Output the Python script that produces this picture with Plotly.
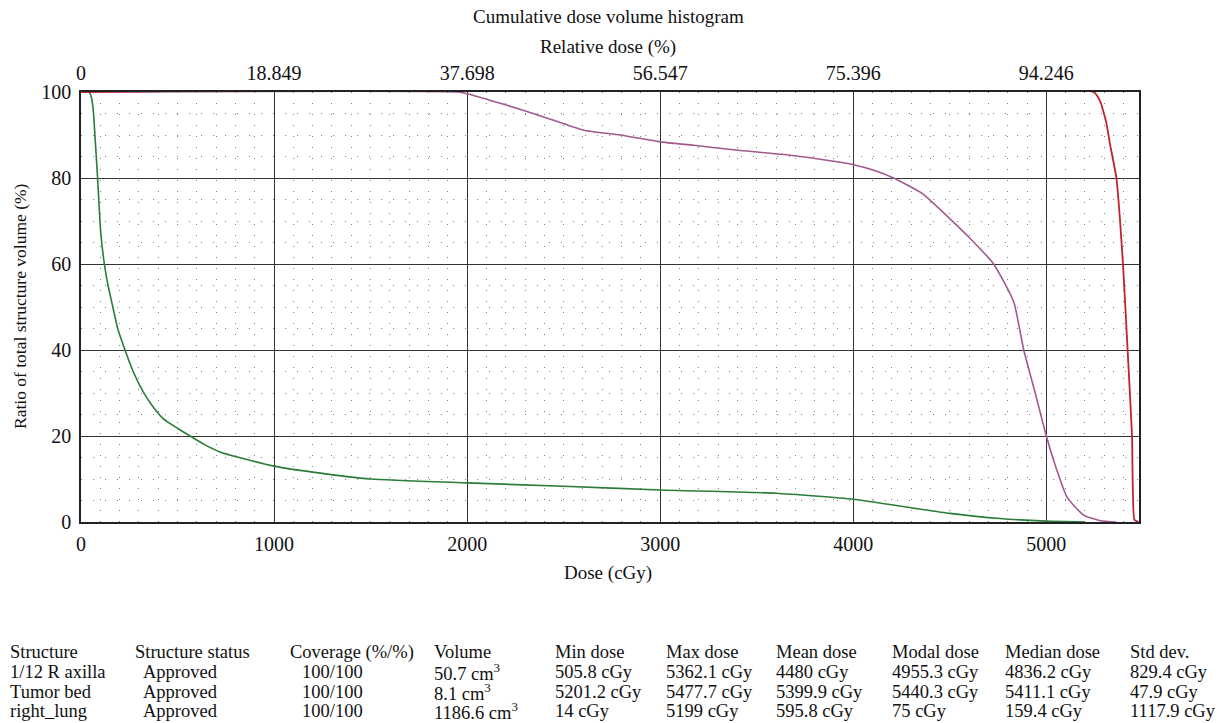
import plotly.graph_objects as go

# ---------------- data ----------------
dose_ticks = [0, 1000, 2000, 3000, 4000, 5000]
rel_dose_labels = ["0", "18.849", "37.698", "56.547", "75.396", "94.246"]
vol_ticks = [0, 20, 40, 60, 80, 100]

# right_lung (green)
lung_dose = [0, 30, 45, 55, 65, 72, 86, 102, 121, 140, 159, 190, 228, 270, 323, 370,
             427, 500, 565, 640, 720, 820, 1000, 1200, 1500, 2000, 2500, 3000,
             3600, 4000, 4330, 4500, 4760, 5000, 5199]
lung_vol = [100, 100, 99.8, 98.5, 95, 90, 80, 67.4, 60, 55, 51.2, 45, 40, 35, 30.2, 27,
            24, 21.8, 20, 18, 16.3, 15, 13, 11.6, 10, 9.1, 8.3, 7.45,
            6.7, 5.3, 3.1, 2.0, 0.8, 0.2, 0]

# 1/12 R axilla (purple)
axilla_dose = [0, 1950, 2000, 2207, 2397, 2604, 2793, 3000, 3173, 3415, 3674, 3899,
               4002, 4106, 4209, 4347, 4399, 4589, 4727, 4831, 4883, 4943, 5000,
               5055, 5107, 5193, 5280, 5362]
axilla_vol = [100, 100, 99.6, 96.9, 94.2, 91.1, 90, 88.4, 87.6, 86.4, 85.3, 83.9,
              83.1, 81.8, 80, 76.7, 74.8, 66.7, 60, 51.2, 40, 29.9, 20,
              12, 5.8, 1.6, 0.3, 0]

# Tumor bed (red)
tumor_dose = [0, 5245, 5280, 5310, 5331, 5363, 5397, 5421, 5444, 5456, 5478]
tumor_vol = [100, 100, 97.7, 93, 87.6, 80, 60, 40, 20, 0.5, 0]

# statistics table
col_headers = ["Structure", "Structure status", "Coverage (%/%)", "Volume", "Min dose",
               "Max dose", "Mean dose", "Modal dose", "Median dose", "Std dev."]
structures = ["1/12 R axilla", "Tumor bed", "right_lung"]
statuses = ["Approved", "Approved", "Approved"]
coverages = ["100/100", "100/100", "100/100"]
volumes = ["50.7 cm<sup>3</sup>", "8.1 cm<sup>3</sup>", "1186.6 cm<sup>3</sup>"]
min_doses = ["505.8 cGy", "5201.2 cGy", "14 cGy"]
max_doses = ["5362.1 cGy", "5477.7 cGy", "5199 cGy"]
mean_doses = ["4480 cGy", "5399.9 cGy", "595.8 cGy"]
modal_doses = ["4955.3 cGy", "5440.3 cGy", "75 cGy"]
median_doses = ["4836.2 cGy", "5411.1 cGy", "159.4 cGy"]
std_devs = ["829.4 cGy", "47.9 cGy", "1117.9 cGy"]

# ---------------- styling / layout ----------------
FONT = "Liberation Serif"
OFF = 8                      # page body margin
W, H = 1225 - OFF, 723 - OFF
PL, PR, PT, PB = 81, 1139, 92, 522   # plot area in reference px
X_MAX = 5480

GREEN = "#2b7d3a"
PURPLE = "#a25a8e"
RED = "#c0232b"

fig = go.Figure()
fig.add_trace(go.Scatter(x=lung_dose, y=lung_vol, mode="lines",
                         line=dict(color=GREEN, width=1.6, shape="spline", smoothing=0.5),
                         hoverinfo="skip", showlegend=False))
fig.add_trace(go.Scatter(x=axilla_dose, y=axilla_vol, mode="lines",
                         line=dict(color=PURPLE, width=1.6, shape="spline", smoothing=0.5),
                         hoverinfo="skip", showlegend=False))
fig.add_trace(go.Scatter(x=tumor_dose, y=tumor_vol, mode="lines",
                         line=dict(color=RED, width=1.8, shape="spline", smoothing=0.4),
                         hoverinfo="skip", showlegend=False))
# invisible trace to anchor the top (relative dose) axis
fig.add_trace(go.Scatter(x=tumor_dose, y=tumor_vol, xaxis="x2", mode="lines",
                         line=dict(color="rgba(0,0,0,0)"), hoverinfo="skip",
                         showlegend=False))

def px_x(p):
    return (p - PL) / (PR - PL)

def px_y(p):
    return (PB - p) / (PB - PT)

TICK = 20
fig.update_layout(
    width=W, height=H,
    margin=dict(l=PL - OFF, r=W - (PR - OFF), t=PT - OFF, b=H - (PB - OFF)),
    paper_bgcolor="white", plot_bgcolor="white",
    font=dict(family=FONT, color="#111", size=TICK),
    xaxis=dict(range=[0, X_MAX], tickvals=dose_ticks, showgrid=True,
               gridcolor="#333", gridwidth=1.3, zeroline=False,
               showline=True, linecolor="#222", linewidth=1.5, mirror=True,
               ticks="outside", ticklen=3, tickcolor="rgba(0,0,0,0)",
               tickfont=dict(size=TICK),
               minor=dict(dtick=100, tick0=0, showgrid=True, gridcolor="#808080",
                          gridwidth=1, griddash="1px,10px")),
    xaxis2=dict(range=[0, X_MAX], overlaying="x", side="top",
                tickvals=dose_ticks, ticktext=rel_dose_labels, showgrid=False,
                zeroline=False, showline=False, ticks="outside", ticklen=3,
                tickcolor="rgba(0,0,0,0)", tickfont=dict(size=TICK)),
    yaxis=dict(range=[0, 100], tickvals=vol_ticks, showgrid=True,
               gridcolor="#333", gridwidth=1.3, zeroline=False,
               showline=True, linecolor="#222", linewidth=1.5, mirror=True,
               ticks="outside", ticklen=4, tickcolor="rgba(0,0,0,0)",
               tickfont=dict(size=TICK),
               minor=dict(dtick=5, tick0=0, showgrid=True, gridcolor="#808080",
                          gridwidth=1, griddash="1px,11px")),
)

ann = []
ann.append(dict(text="Cumulative dose volume histogram", x=px_x(608), y=px_y(17),
                xref="paper", yref="paper", showarrow=False, font=dict(size=19),
                xanchor="center", yanchor="middle"))
ann.append(dict(text="Relative dose (%)", x=px_x(608), y=px_y(47),
                xref="paper", yref="paper", showarrow=False, font=dict(size=19),
                xanchor="center", yanchor="middle"))
ann.append(dict(text="Dose (cGy)", x=px_x(608), y=px_y(573),
                xref="paper", yref="paper", showarrow=False, font=dict(size=19),
                xanchor="center", yanchor="middle"))
ann.append(dict(text="Ratio of total structure volume (%)", x=px_x(20), y=px_y(306),
                xref="paper", yref="paper", showarrow=False, font=dict(size=17.5),
                textangle=-90, xanchor="center", yanchor="middle"))

header_x = [8, 133, 288, 432, 553, 664, 774, 890, 1003, 1128]
value_x = [8, 141, 300, 432, 553, 664, 774, 890, 1003, 1128]
row_y = [652, 672, 692, 711]
columns = [structures, statuses, coverages, volumes, min_doses, max_doses,
           mean_doses, modal_doses, median_doses, std_devs]
TF = 18.5
for ci, h in enumerate(col_headers):
    ann.append(dict(text=h, x=px_x(header_x[ci]), y=px_y(row_y[0]), xref="paper",
                    yref="paper", showarrow=False, xanchor="left", yanchor="middle",
                    font=dict(size=TF)))
    for ri, v in enumerate(columns[ci]):
        ann.append(dict(text=v, x=px_x(value_x[ci]), y=px_y(row_y[ri + 1]),
                        xref="paper", yref="paper", showarrow=False,
                        xanchor="left", yanchor="middle", font=dict(size=TF)))
fig.update_layout(annotations=ann)

fig.write_html("out.html")
